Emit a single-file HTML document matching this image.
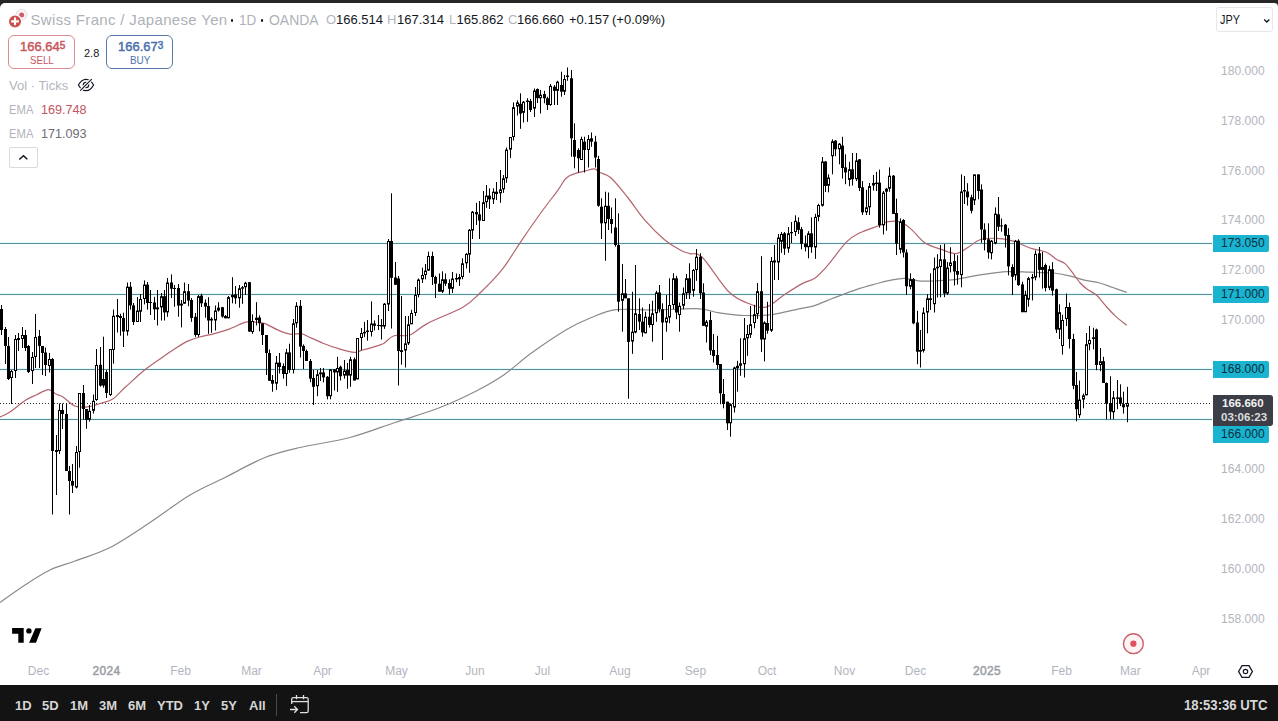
<!DOCTYPE html>
<html><head><meta charset="utf-8">
<style>
*{box-sizing:border-box;margin:0;padding:0}
html,body{width:1278px;height:721px;overflow:hidden;background:#262626;font-family:"Liberation Sans",sans-serif}
#wrap{position:absolute;left:0;top:3px;width:1278px;height:682px;background:#fff;border-radius:5px 4px 0 0}
.t{position:absolute;white-space:nowrap;line-height:1}
.ylab{position:absolute;left:1221px;font-size:12px;color:#b2b5be;line-height:1;letter-spacing:0.05px}
.xlab{position:absolute;top:665px;font-size:12px;color:#b2b5be;line-height:1;transform:translateX(-50%)}
.plab{position:absolute;left:1213px;width:56px;height:17px;background:#1ab3d0;border-radius:0 2px 2px 0;color:#0c2f3b;font-size:12px;line-height:17px;padding-left:8px;letter-spacing:0.05px}
#bar{position:absolute;left:0;top:685px;width:1278px;height:36px;background:#131313}
.bt{position:absolute;top:699px;font-size:13px;color:#d6d6d6;font-weight:bold;line-height:1}
</style></head><body>
<div id="wrap"></div>
<svg width="1278" height="721" viewBox="0 0 1278 721" style="position:absolute;left:0;top:0">
  <g fill="#e2fafd"><rect x="0" y="242" width="1212" height="1"/><rect x="0" y="293" width="1212" height="1"/><rect x="0" y="368" width="1212" height="1"/><rect x="0" y="418" width="1212" height="1"/></g>
  <g fill="#f0fcfd"><rect x="0" y="244" width="1212" height="1"/><rect x="0" y="295" width="1212" height="1"/><rect x="0" y="370" width="1212" height="1"/><rect x="0" y="420" width="1212" height="1"/></g>
  <g fill="#5c9098">
    <rect x="0" y="243" width="1212" height="1"/>
    <rect x="0" y="294" width="1212" height="1"/>
    <rect x="0" y="369" width="1212" height="1"/>
    <rect x="0" y="419" width="1212" height="1"/>
  </g>
  <line x1="0" y1="403.5" x2="1211" y2="403.5" stroke="#2a2a2a" stroke-width="1" stroke-dasharray="1 2"/>
  <path fill="none" stroke="#8a8a8a" stroke-width="1.2" d="M0.0 602.5 C4.2 599.6 16.7 590.4 25.0 585.0 C33.3 579.6 41.7 574.0 50.0 570.0 C58.3 566.0 65.0 564.8 75.0 561.0 C85.0 557.2 97.5 553.9 110.0 547.5 C122.5 541.1 136.7 531.2 150.0 522.5 C163.3 513.8 177.5 502.5 190.0 495.0 C202.5 487.5 212.5 483.8 225.0 477.5 C237.5 471.2 252.5 462.5 265.0 457.5 C277.5 452.5 285.8 450.8 300.0 447.5 C314.2 444.2 334.2 441.7 350.0 437.5 C365.8 433.3 380.0 427.5 395.0 422.5 C410.0 417.5 426.4 412.8 440.0 407.5 C453.6 402.2 465.7 396.4 476.3 391.0 C486.9 385.6 494.6 381.3 503.7 375.0 C512.8 368.7 520.6 360.9 531.1 353.3 C541.6 345.7 556.7 335.5 566.7 329.5 C576.8 323.5 583.2 320.8 591.4 317.5 C599.6 314.2 605.3 310.9 616.0 309.6 C626.7 308.4 642.1 310.2 655.6 310.0 C669.1 309.8 686.6 308.1 697.2 308.6 C707.8 309.1 711.5 311.7 719.4 312.8 C727.3 313.9 736.1 315.2 744.8 315.5 C753.5 315.8 762.2 315.8 771.4 314.7 C780.6 313.6 792.9 310.1 800.0 308.6 C807.1 307.1 809.3 307.2 814.0 305.8 C818.7 304.4 824.0 301.8 828.2 300.1 C832.4 298.5 834.7 297.6 839.4 295.9 C844.1 294.1 850.7 291.5 856.3 289.6 C861.9 287.7 867.6 286.1 873.2 284.6 C878.8 283.1 884.9 281.4 890.1 280.4 C895.3 279.3 899.5 278.2 904.2 278.3 C908.9 278.4 914.1 280.3 918.3 280.8 C922.5 281.3 925.4 281.2 929.6 281.1 C933.8 281.0 939.5 280.6 943.7 280.4 C947.9 280.2 950.7 280.3 954.9 279.7 C959.1 279.1 964.8 277.7 969.0 276.9 C973.2 276.1 973.5 275.7 980.0 274.8 C986.5 273.9 999.5 272.1 1007.8 271.7 C1016.1 271.3 1022.3 272.0 1030.0 272.2 C1037.7 272.4 1047.2 272.4 1053.9 273.0 C1060.7 273.6 1065.4 274.9 1070.5 276.1 C1075.6 277.3 1079.6 279.1 1084.4 280.2 C1089.2 281.3 1095.0 281.8 1099.6 283.0 C1104.2 284.2 1107.6 285.6 1112.1 287.2 C1116.6 288.8 1124.3 291.5 1126.7 292.4"/>
  <path fill="none" stroke="#b4646e" stroke-width="1.2" d="M0.0 417.0 C1.6 416.2 5.2 415.0 9.4 412.3 C13.6 409.6 20.6 403.5 25.0 400.6 C29.4 397.7 32.1 396.8 36.0 395.0 C39.9 393.2 45.1 389.7 48.5 389.6 C51.9 389.5 53.9 393.1 56.3 394.3 C58.6 395.5 59.5 394.8 62.6 396.7 C65.7 398.6 70.8 404.3 75.0 406.0 C79.2 407.7 83.1 407.4 87.6 406.9 C92.0 406.4 97.5 404.3 101.7 403.0 C105.9 401.7 108.8 401.6 112.7 399.0 C116.6 396.4 119.7 392.2 125.2 387.3 C130.7 382.4 139.0 374.5 145.5 369.3 C152.0 364.1 159.1 359.6 164.3 356.0 C169.5 352.4 172.9 349.9 176.8 347.4 C180.7 344.9 184.0 342.8 187.8 341.1 C191.6 339.4 195.1 338.2 199.4 337.0 C203.7 335.8 208.6 335.1 213.5 333.8 C218.4 332.5 223.8 331.1 229.1 329.1 C234.4 327.2 241.2 323.3 245.6 322.1 C250.0 320.9 252.4 321.9 255.7 322.1 C258.9 322.4 261.5 322.3 265.1 323.6 C268.8 324.9 273.4 328.1 277.6 329.9 C281.8 331.7 286.3 333.6 290.2 334.2 C294.1 334.8 298.1 333.3 301.0 333.6 C303.9 333.9 303.7 334.6 307.4 336.2 C311.1 337.8 317.8 341.1 323.0 343.2 C328.2 345.3 333.5 347.2 338.7 348.7 C343.9 350.2 350.4 352.1 354.3 352.3 C358.2 352.6 358.2 351.3 362.1 350.2 C366.0 349.1 374.2 346.8 377.8 345.6 C381.4 344.4 381.3 344.8 384.0 343.2 C386.7 341.6 389.7 337.2 394.0 335.8 C398.3 334.4 404.5 337.0 410.0 335.0 C415.5 333.0 418.3 328.3 427.2 323.6 C436.1 318.9 454.5 312.0 463.3 306.9 C472.1 301.8 473.5 299.2 480.0 293.0 C486.5 286.8 495.2 278.2 502.2 269.4 C509.1 260.6 515.2 249.8 521.7 240.3 C528.2 230.8 535.1 220.8 541.1 212.5 C547.1 204.2 553.6 196.0 557.8 190.3 C561.9 184.6 563.1 181.0 566.0 178.2 C568.9 175.4 571.7 174.8 575.0 173.6 C578.3 172.4 582.4 171.7 585.6 170.9 C588.8 170.1 592.0 168.6 594.4 168.9 C596.8 169.2 597.2 171.0 600.0 172.5 C602.8 174.0 606.5 173.8 611.1 178.0 C615.7 182.2 622.2 190.6 627.8 197.5 C633.3 204.4 638.4 212.8 644.4 219.7 C650.4 226.6 657.9 234.1 663.9 239.2 C669.9 244.3 676.2 247.9 680.6 250.3 C685.0 252.7 686.4 252.4 690.0 253.6 C693.6 254.8 696.0 251.1 702.5 257.5 C709.0 263.9 720.9 284.2 729.0 292.0 C737.1 299.8 744.7 302.0 751.0 304.5 C757.3 307.0 761.2 308.4 766.7 306.8 C772.2 305.2 777.9 298.9 783.9 295.0 C789.9 291.1 797.5 286.2 802.7 283.4 C807.9 280.5 811.0 280.9 815.2 277.9 C819.4 274.9 822.5 271.4 827.7 265.4 C832.9 259.4 841.3 247.2 846.5 241.9 C851.7 236.6 853.5 236.0 859.0 233.3 C864.5 230.6 874.5 227.4 879.4 225.5 C884.3 223.6 885.0 222.3 888.3 221.7 C891.6 221.1 895.7 220.5 899.4 221.7 C903.1 222.8 906.4 225.1 910.6 228.6 C914.8 232.1 919.3 239.0 924.4 242.5 C929.5 246.0 935.8 247.6 941.1 249.4 C946.4 251.2 951.8 254.1 956.4 253.6 C961.0 253.1 965.0 249.0 968.9 246.7 C972.8 244.4 975.4 241.1 980.0 239.7 C984.6 238.3 991.2 238.1 996.7 238.3 C1002.2 238.5 1007.8 239.5 1013.3 241.1 C1018.8 242.7 1025.5 246.4 1030.0 248.0 C1034.5 249.6 1037.0 249.5 1040.0 250.4 C1043.0 251.3 1045.5 251.7 1048.3 253.2 C1051.1 254.7 1053.8 257.7 1056.6 259.4 C1059.4 261.1 1062.5 261.5 1065.0 263.6 C1067.5 265.7 1069.4 268.7 1071.9 271.9 C1074.4 275.1 1077.7 280.1 1080.2 283.0 C1082.8 285.9 1084.4 287.1 1087.2 289.2 C1090.0 291.3 1093.9 292.8 1096.9 295.5 C1099.9 298.2 1102.2 301.8 1105.2 305.2 C1108.2 308.6 1111.3 312.2 1114.9 315.6 C1118.5 319.0 1124.7 323.7 1126.7 325.3"/>
  <g fill="#000">
<rect x="1" y="305.0" width="1" height="30.0"/>
<rect x="0" y="309.0" width="3" height="21.0"/>
<rect x="5" y="327.0" width="1" height="37.0"/>
<rect x="4" y="329.0" width="3" height="17.0"/>
<rect x="8" y="337.0" width="1" height="43.0"/>
<rect x="7" y="346.0" width="3" height="33.0"/>
<rect x="11" y="370.0" width="1" height="34.0"/>
<rect x="10.5" y="371.5" width="2" height="6.0" fill="#fff" stroke="#000" stroke-width="1"/>
<rect x="15" y="335.0" width="1" height="43.0"/>
<rect x="14.5" y="339.5" width="2" height="31.0" fill="#fff" stroke="#000" stroke-width="1"/>
<rect x="18" y="333.0" width="1" height="18.0"/>
<rect x="17" y="338.0" width="3" height="2.0"/>
<rect x="22" y="327.0" width="1" height="21.0"/>
<rect x="21.5" y="335.5" width="2" height="3.0" fill="#fff" stroke="#000" stroke-width="1"/>
<rect x="25" y="330.0" width="1" height="21.0"/>
<rect x="24" y="335.0" width="3" height="13.0"/>
<rect x="28" y="345.0" width="1" height="28.0"/>
<rect x="27" y="346.0" width="3" height="26.0"/>
<rect x="32" y="352.0" width="1" height="32.0"/>
<rect x="31.5" y="357.5" width="2" height="13.0" fill="#fff" stroke="#000" stroke-width="1"/>
<rect x="35" y="314.0" width="1" height="54.0"/>
<rect x="34.5" y="337.5" width="2" height="19.0" fill="#fff" stroke="#000" stroke-width="1"/>
<rect x="39" y="330.0" width="1" height="38.0"/>
<rect x="38" y="336.0" width="3" height="10.0"/>
<rect x="42" y="346.0" width="1" height="29.0"/>
<rect x="41" y="346.0" width="3" height="7.0"/>
<rect x="45" y="347.5" width="1" height="28.5"/>
<rect x="44" y="352.5" width="3" height="12.5"/>
<rect x="49" y="353.0" width="1" height="19.5"/>
<rect x="48.5" y="359.5" width="2" height="6.0" fill="#fff" stroke="#000" stroke-width="1"/>
<rect x="52" y="358.0" width="1" height="156.5"/>
<rect x="51" y="359.0" width="3" height="92.0"/>
<rect x="56" y="435.0" width="1" height="60.0"/>
<rect x="55.5" y="450.5" width="2" height="1.0" fill="#fff" stroke="#000" stroke-width="1"/>
<rect x="59" y="403.5" width="1" height="50.5"/>
<rect x="58.5" y="410.5" width="2" height="40.0" fill="#fff" stroke="#000" stroke-width="1"/>
<rect x="62" y="403.5" width="1" height="25.5"/>
<rect x="61" y="410.0" width="3" height="4.0"/>
<rect x="66" y="403.5" width="1" height="46.5"/>
<rect x="65" y="414.0" width="3" height="57.0"/>
<rect x="69" y="466.0" width="1" height="48.5"/>
<rect x="68" y="471.0" width="3" height="10.0"/>
<rect x="72" y="464.0" width="1" height="29.0"/>
<rect x="71" y="481.0" width="3" height="4.7"/>
<rect x="76" y="446.0" width="1" height="42.4"/>
<rect x="75.5" y="452.5" width="2" height="34.5" fill="#fff" stroke="#000" stroke-width="1"/>
<rect x="79" y="393.0" width="1" height="74.6"/>
<rect x="78.5" y="393.5" width="2" height="58.0" fill="#fff" stroke="#000" stroke-width="1"/>
<rect x="83" y="385.0" width="1" height="34.8"/>
<rect x="82" y="393.0" width="3" height="16.0"/>
<rect x="86" y="409.0" width="1" height="19.8"/>
<rect x="85" y="409.0" width="3" height="10.8"/>
<rect x="89" y="405.0" width="1" height="16.6"/>
<rect x="88.5" y="411.3" width="2" height="8.0" fill="#fff" stroke="#000" stroke-width="1"/>
<rect x="93" y="394.5" width="1" height="19.0"/>
<rect x="92.5" y="401.3" width="2" height="9.0" fill="#fff" stroke="#000" stroke-width="1"/>
<rect x="96" y="349.0" width="1" height="51.8"/>
<rect x="95.5" y="365.5" width="2" height="34.0" fill="#fff" stroke="#000" stroke-width="1"/>
<rect x="100" y="347.0" width="1" height="39.7"/>
<rect x="99" y="364.8" width="3" height="20.8"/>
<rect x="103" y="336.7" width="1" height="51.0"/>
<rect x="102" y="379.0" width="3" height="6.6"/>
<rect x="106" y="370.0" width="1" height="28.0"/>
<rect x="105" y="372.0" width="3" height="21.0"/>
<rect x="110" y="349.0" width="1" height="47.0"/>
<rect x="109.5" y="349.5" width="2" height="45.0" fill="#fff" stroke="#000" stroke-width="1"/>
<rect x="113" y="309.6" width="1" height="54.1"/>
<rect x="112.5" y="316.3" width="2" height="33.2" fill="#fff" stroke="#000" stroke-width="1"/>
<rect x="117" y="299.0" width="1" height="33.5"/>
<rect x="116.5" y="315.5" width="2" height="1.0" fill="#fff" stroke="#000" stroke-width="1"/>
<rect x="120" y="313.8" width="1" height="21.9"/>
<rect x="119.5" y="316.5" width="2" height="1.0" fill="#fff" stroke="#000" stroke-width="1"/>
<rect x="123" y="312.7" width="1" height="34.3"/>
<rect x="122" y="318.0" width="3" height="13.5"/>
<rect x="127" y="282.5" width="1" height="53.1"/>
<rect x="126.5" y="287.2" width="2" height="43.8" fill="#fff" stroke="#000" stroke-width="1"/>
<rect x="130" y="282.0" width="1" height="27.6"/>
<rect x="129" y="286.7" width="3" height="18.7"/>
<rect x="133" y="303.0" width="1" height="22.0"/>
<rect x="132" y="305.4" width="3" height="16.6"/>
<rect x="137" y="297.0" width="1" height="25.0"/>
<rect x="136.5" y="311.1" width="2" height="10.4" fill="#fff" stroke="#000" stroke-width="1"/>
<rect x="140" y="294.0" width="1" height="28.0"/>
<rect x="139.5" y="299.5" width="2" height="11.7" fill="#fff" stroke="#000" stroke-width="1"/>
<rect x="144" y="280.4" width="1" height="24.0"/>
<rect x="143.5" y="285.1" width="2" height="13.4" fill="#fff" stroke="#000" stroke-width="1"/>
<rect x="147" y="282.0" width="1" height="27.6"/>
<rect x="146" y="284.6" width="3" height="18.4"/>
<rect x="150" y="290.0" width="1" height="25.0"/>
<rect x="149" y="302.0" width="3" height="1.0"/>
<rect x="154" y="296.8" width="1" height="23.2"/>
<rect x="153" y="302.5" width="3" height="6.8"/>
<rect x="157" y="290.0" width="1" height="35.5"/>
<rect x="156.5" y="307.9" width="2" height="0.9" fill="#fff" stroke="#000" stroke-width="1"/>
<rect x="161" y="293.0" width="1" height="27.5"/>
<rect x="160.5" y="296.7" width="2" height="10.2" fill="#fff" stroke="#000" stroke-width="1"/>
<rect x="164" y="290.0" width="1" height="30.5"/>
<rect x="163" y="296.2" width="3" height="16.2"/>
<rect x="167" y="278.0" width="1" height="38.8"/>
<rect x="166.5" y="283.0" width="2" height="28.9" fill="#fff" stroke="#000" stroke-width="1"/>
<rect x="171" y="274.4" width="1" height="23.6"/>
<rect x="170" y="282.5" width="3" height="6.2"/>
<rect x="174" y="285.0" width="1" height="21.8"/>
<rect x="173" y="288.0" width="3" height="1.0"/>
<rect x="178" y="284.0" width="1" height="32.8"/>
<rect x="177" y="288.0" width="3" height="17.6"/>
<rect x="181" y="300.0" width="1" height="27.4"/>
<rect x="180.5" y="304.2" width="2" height="0.9" fill="#fff" stroke="#000" stroke-width="1"/>
<rect x="184" y="282.5" width="1" height="21.2"/>
<rect x="183.5" y="291.7" width="2" height="11.5" fill="#fff" stroke="#000" stroke-width="1"/>
<rect x="188" y="284.0" width="1" height="22.2"/>
<rect x="187" y="291.2" width="3" height="9.4"/>
<rect x="191" y="298.0" width="1" height="23.8"/>
<rect x="190" y="300.0" width="3" height="18.0"/>
<rect x="195" y="313.0" width="1" height="23.8"/>
<rect x="194" y="316.8" width="3" height="18.2"/>
<rect x="198" y="295.0" width="1" height="41.8"/>
<rect x="197.5" y="296.7" width="2" height="37.8" fill="#fff" stroke="#000" stroke-width="1"/>
<rect x="201" y="293.7" width="1" height="13.3"/>
<rect x="200" y="295.6" width="3" height="7.7"/>
<rect x="205" y="299.4" width="1" height="18.3"/>
<rect x="204" y="302.7" width="3" height="3.9"/>
<rect x="208" y="297.2" width="1" height="36.6"/>
<rect x="207" y="306.0" width="3" height="14.5"/>
<rect x="211" y="317.2" width="1" height="15.5"/>
<rect x="210.5" y="319.3" width="2" height="0.7" fill="#fff" stroke="#000" stroke-width="1"/>
<rect x="215" y="305.5" width="1" height="25.0"/>
<rect x="214.5" y="311.0" width="2" height="9.0" fill="#fff" stroke="#000" stroke-width="1"/>
<rect x="218" y="302.2" width="1" height="9.4"/>
<rect x="217.5" y="308.2" width="2" height="1.8" fill="#fff" stroke="#000" stroke-width="1"/>
<rect x="222" y="307.0" width="1" height="10.7"/>
<rect x="221" y="307.2" width="3" height="9.4"/>
<rect x="225" y="315.0" width="1" height="3.3"/>
<rect x="224" y="316.0" width="3" height="2.3"/>
<rect x="228" y="296.0" width="1" height="22.3"/>
<rect x="227.5" y="297.7" width="2" height="20.1" fill="#fff" stroke="#000" stroke-width="1"/>
<rect x="232" y="277.2" width="1" height="26.1"/>
<rect x="231.5" y="295.5" width="2" height="1.2" fill="#fff" stroke="#000" stroke-width="1"/>
<rect x="235" y="286.0" width="1" height="17.8"/>
<rect x="234" y="294.4" width="3" height="3.9"/>
<rect x="239" y="285.0" width="1" height="22.7"/>
<rect x="238.5" y="288.8" width="2" height="9.0" fill="#fff" stroke="#000" stroke-width="1"/>
<rect x="242" y="286.0" width="1" height="17.8"/>
<rect x="241.5" y="287.7" width="2" height="0.5" fill="#fff" stroke="#000" stroke-width="1"/>
<rect x="245" y="281.7" width="1" height="13.3"/>
<rect x="244.5" y="283.3" width="2" height="3.4" fill="#fff" stroke="#000" stroke-width="1"/>
<rect x="249" y="282.0" width="1" height="49.6"/>
<rect x="248" y="282.2" width="3" height="49.4"/>
<rect x="252" y="314.4" width="1" height="19.4"/>
<rect x="251.5" y="321.5" width="2" height="10.0" fill="#fff" stroke="#000" stroke-width="1"/>
<rect x="256" y="302.2" width="1" height="23.3"/>
<rect x="255.5" y="318.2" width="2" height="1.3" fill="#fff" stroke="#000" stroke-width="1"/>
<rect x="259" y="315.3" width="1" height="16.0"/>
<rect x="258" y="317.5" width="3" height="5.8"/>
<rect x="262" y="323.3" width="1" height="21.7"/>
<rect x="261" y="323.3" width="3" height="11.7"/>
<rect x="266" y="335.0" width="1" height="40.0"/>
<rect x="265" y="335.0" width="3" height="18.0"/>
<rect x="269" y="349.5" width="1" height="31.3"/>
<rect x="268" y="353.0" width="3" height="27.8"/>
<rect x="272" y="375.0" width="1" height="16.7"/>
<rect x="271" y="380.0" width="3" height="3.7"/>
<rect x="276" y="356.0" width="1" height="34.0"/>
<rect x="275.5" y="363.1" width="2" height="20.1" fill="#fff" stroke="#000" stroke-width="1"/>
<rect x="279" y="353.0" width="1" height="20.5"/>
<rect x="278" y="362.6" width="3" height="4.4"/>
<rect x="283" y="363.3" width="1" height="15.3"/>
<rect x="282" y="366.0" width="3" height="8.0"/>
<rect x="286" y="348.8" width="1" height="37.2"/>
<rect x="285.5" y="352.9" width="2" height="20.6" fill="#fff" stroke="#000" stroke-width="1"/>
<rect x="289" y="343.7" width="1" height="29.1"/>
<rect x="288" y="352.4" width="3" height="17.6"/>
<rect x="293" y="319.0" width="1" height="54.5"/>
<rect x="292.5" y="323.8" width="2" height="45.7" fill="#fff" stroke="#000" stroke-width="1"/>
<rect x="296" y="302.2" width="1" height="25.5"/>
<rect x="295.5" y="306.3" width="2" height="16.5" fill="#fff" stroke="#000" stroke-width="1"/>
<rect x="300" y="300.0" width="1" height="57.5"/>
<rect x="299" y="305.8" width="3" height="40.8"/>
<rect x="303" y="344.4" width="1" height="24.6"/>
<rect x="302" y="345.9" width="3" height="5.1"/>
<rect x="306" y="349.5" width="1" height="11.5"/>
<rect x="305" y="351.0" width="3" height="10.0"/>
<rect x="310" y="359.0" width="1" height="23.2"/>
<rect x="309" y="361.0" width="3" height="17.6"/>
<rect x="313" y="370.0" width="1" height="34.9"/>
<rect x="312" y="378.0" width="3" height="8.8"/>
<rect x="317" y="370.0" width="1" height="26.2"/>
<rect x="316.5" y="374.8" width="2" height="10.9" fill="#fff" stroke="#000" stroke-width="1"/>
<rect x="320" y="368.0" width="1" height="13.0"/>
<rect x="319.5" y="372.9" width="2" height="0.9" fill="#fff" stroke="#000" stroke-width="1"/>
<rect x="323" y="368.0" width="1" height="14.4"/>
<rect x="322" y="372.4" width="3" height="5.0"/>
<rect x="327" y="376.0" width="1" height="23.3"/>
<rect x="326" y="376.8" width="3" height="19.4"/>
<rect x="330" y="369.3" width="1" height="30.0"/>
<rect x="329.5" y="369.8" width="2" height="25.9" fill="#fff" stroke="#000" stroke-width="1"/>
<rect x="334" y="369.3" width="1" height="21.2"/>
<rect x="333" y="369.3" width="3" height="3.1"/>
<rect x="337" y="356.8" width="1" height="35.0"/>
<rect x="336.5" y="368.5" width="2" height="3.4" fill="#fff" stroke="#000" stroke-width="1"/>
<rect x="340" y="365.6" width="1" height="14.9"/>
<rect x="339" y="366.8" width="3" height="9.4"/>
<rect x="344" y="360.0" width="1" height="18.7"/>
<rect x="343.5" y="371.1" width="2" height="4.0" fill="#fff" stroke="#000" stroke-width="1"/>
<rect x="347" y="363.0" width="1" height="25.7"/>
<rect x="346" y="370.0" width="3" height="5.6"/>
<rect x="350" y="356.8" width="1" height="30.0"/>
<rect x="349.5" y="359.8" width="2" height="15.3" fill="#fff" stroke="#000" stroke-width="1"/>
<rect x="354" y="357.5" width="1" height="23.0"/>
<rect x="353" y="359.3" width="3" height="21.2"/>
<rect x="357" y="338.0" width="1" height="41.3"/>
<rect x="356.5" y="338.5" width="2" height="40.3" fill="#fff" stroke="#000" stroke-width="1"/>
<rect x="361" y="328.0" width="1" height="22.0"/>
<rect x="360.5" y="333.5" width="2" height="4.0" fill="#fff" stroke="#000" stroke-width="1"/>
<rect x="364" y="321.9" width="1" height="15.0"/>
<rect x="363.5" y="332.4" width="2" height="0.5" fill="#fff" stroke="#000" stroke-width="1"/>
<rect x="367" y="320.0" width="1" height="20.6"/>
<rect x="366" y="330.5" width="3" height="1.5"/>
<rect x="371" y="301.4" width="1" height="35.1"/>
<rect x="370.5" y="324.0" width="2" height="7.5" fill="#fff" stroke="#000" stroke-width="1"/>
<rect x="374" y="320.5" width="1" height="9.9"/>
<rect x="373" y="323.5" width="3" height="2.3"/>
<rect x="378" y="315.0" width="1" height="15.0"/>
<rect x="377" y="325.0" width="3" height="1.0"/>
<rect x="381" y="319.0" width="1" height="20.5"/>
<rect x="380.5" y="325.5" width="2" height="0.5" fill="#fff" stroke="#000" stroke-width="1"/>
<rect x="384" y="303.0" width="1" height="25.9"/>
<rect x="383.5" y="304.2" width="2" height="21.9" fill="#fff" stroke="#000" stroke-width="1"/>
<rect x="388" y="239.0" width="1" height="72.0"/>
<rect x="387.5" y="241.5" width="2" height="62.5" fill="#fff" stroke="#000" stroke-width="1"/>
<rect x="391" y="193.3" width="1" height="135.2"/>
<rect x="390" y="241.0" width="3" height="36.8"/>
<rect x="395" y="262.0" width="1" height="23.0"/>
<rect x="394" y="277.5" width="3" height="7.3"/>
<rect x="398" y="276.0" width="1" height="109.5"/>
<rect x="397" y="278.5" width="3" height="72.5"/>
<rect x="401" y="296.0" width="1" height="68.7"/>
<rect x="400" y="350.2" width="3" height="1.8"/>
<rect x="405" y="316.0" width="1" height="51.5"/>
<rect x="404.5" y="343.9" width="2" height="6.1" fill="#fff" stroke="#000" stroke-width="1"/>
<rect x="408" y="316.0" width="1" height="29.0"/>
<rect x="407.5" y="324.8" width="2" height="18.1" fill="#fff" stroke="#000" stroke-width="1"/>
<rect x="411" y="309.8" width="1" height="14.2"/>
<rect x="410.5" y="313.5" width="2" height="10.3" fill="#fff" stroke="#000" stroke-width="1"/>
<rect x="415" y="287.0" width="1" height="29.0"/>
<rect x="414.5" y="295.5" width="2" height="17.0" fill="#fff" stroke="#000" stroke-width="1"/>
<rect x="418" y="278.5" width="1" height="18.8"/>
<rect x="417.5" y="280.1" width="2" height="14.4" fill="#fff" stroke="#000" stroke-width="1"/>
<rect x="422" y="267.7" width="1" height="15.3"/>
<rect x="421.5" y="275.5" width="2" height="3.3" fill="#fff" stroke="#000" stroke-width="1"/>
<rect x="425" y="264.0" width="1" height="15.3"/>
<rect x="424.5" y="271.1" width="2" height="3.4" fill="#fff" stroke="#000" stroke-width="1"/>
<rect x="428" y="251.7" width="1" height="18.9"/>
<rect x="427.5" y="256.5" width="2" height="13.6" fill="#fff" stroke="#000" stroke-width="1"/>
<rect x="432" y="251.7" width="1" height="33.3"/>
<rect x="431" y="256.0" width="3" height="21.0"/>
<rect x="435" y="275.7" width="1" height="22.3"/>
<rect x="434" y="277.0" width="3" height="6.7"/>
<rect x="439" y="273.5" width="1" height="18.2"/>
<rect x="438" y="283.7" width="3" height="8.0"/>
<rect x="442" y="271.3" width="1" height="21.7"/>
<rect x="441.5" y="279.8" width="2" height="11.4" fill="#fff" stroke="#000" stroke-width="1"/>
<rect x="445" y="273.5" width="1" height="12.4"/>
<rect x="444" y="279.3" width="3" height="4.4"/>
<rect x="449" y="279.3" width="1" height="15.3"/>
<rect x="448" y="283.0" width="3" height="5.8"/>
<rect x="452" y="272.0" width="1" height="21.0"/>
<rect x="451.5" y="279.1" width="2" height="9.2" fill="#fff" stroke="#000" stroke-width="1"/>
<rect x="456" y="273.5" width="1" height="8.7"/>
<rect x="455.5" y="278.5" width="2" height="0.5" fill="#fff" stroke="#000" stroke-width="1"/>
<rect x="459" y="274.0" width="1" height="11.9"/>
<rect x="458.5" y="277.5" width="2" height="1.3" fill="#fff" stroke="#000" stroke-width="1"/>
<rect x="462" y="258.2" width="1" height="21.1"/>
<rect x="461.5" y="263.8" width="2" height="12.7" fill="#fff" stroke="#000" stroke-width="1"/>
<rect x="466" y="253.0" width="1" height="15.4"/>
<rect x="465.5" y="254.4" width="2" height="8.4" fill="#fff" stroke="#000" stroke-width="1"/>
<rect x="469" y="229.0" width="1" height="43.8"/>
<rect x="468.5" y="230.3" width="2" height="23.8" fill="#fff" stroke="#000" stroke-width="1"/>
<rect x="472" y="211.0" width="1" height="28.0"/>
<rect x="471.5" y="212.2" width="2" height="17.9" fill="#fff" stroke="#000" stroke-width="1"/>
<rect x="476" y="202.8" width="1" height="22.2"/>
<rect x="475" y="212.0" width="3" height="2.4"/>
<rect x="479" y="201.0" width="1" height="38.0"/>
<rect x="478" y="214.4" width="3" height="6.2"/>
<rect x="483" y="191.0" width="1" height="30.0"/>
<rect x="482.5" y="202.7" width="2" height="17.8" fill="#fff" stroke="#000" stroke-width="1"/>
<rect x="486" y="185.0" width="1" height="22.8"/>
<rect x="485.5" y="196.1" width="2" height="5.6" fill="#fff" stroke="#000" stroke-width="1"/>
<rect x="489" y="188.3" width="1" height="20.7"/>
<rect x="488" y="195.6" width="3" height="3.8"/>
<rect x="493" y="188.3" width="1" height="15.7"/>
<rect x="492.5" y="192.2" width="2" height="6.7" fill="#fff" stroke="#000" stroke-width="1"/>
<rect x="496" y="182.0" width="1" height="18.0"/>
<rect x="495" y="191.7" width="3" height="2.3"/>
<rect x="500" y="170.0" width="1" height="32.8"/>
<rect x="499.5" y="189.9" width="2" height="2.9" fill="#fff" stroke="#000" stroke-width="1"/>
<rect x="503" y="175.0" width="1" height="17.8"/>
<rect x="502.5" y="178.8" width="2" height="10.1" fill="#fff" stroke="#000" stroke-width="1"/>
<rect x="506" y="147.5" width="1" height="35.3"/>
<rect x="505.5" y="150.1" width="2" height="27.7" fill="#fff" stroke="#000" stroke-width="1"/>
<rect x="510" y="137.0" width="1" height="21.0"/>
<rect x="509.5" y="137.5" width="2" height="11.6" fill="#fff" stroke="#000" stroke-width="1"/>
<rect x="513" y="102.4" width="1" height="38.1"/>
<rect x="512.5" y="107.7" width="2" height="28.8" fill="#fff" stroke="#000" stroke-width="1"/>
<rect x="517" y="100.3" width="1" height="15.2"/>
<rect x="516.5" y="102.9" width="2" height="3.1" fill="#fff" stroke="#000" stroke-width="1"/>
<rect x="520" y="93.3" width="1" height="35.5"/>
<rect x="519" y="103.8" width="3" height="9.8"/>
<rect x="523" y="101.0" width="1" height="21.5"/>
<rect x="522.5" y="102.2" width="2" height="10.1" fill="#fff" stroke="#000" stroke-width="1"/>
<rect x="527" y="98.2" width="1" height="23.6"/>
<rect x="526.5" y="101.0" width="2" height="0.5" fill="#fff" stroke="#000" stroke-width="1"/>
<rect x="530" y="98.9" width="1" height="13.1"/>
<rect x="529" y="101.0" width="3" height="9.0"/>
<rect x="534" y="88.5" width="1" height="28.5"/>
<rect x="533.5" y="91.0" width="2" height="17.1" fill="#fff" stroke="#000" stroke-width="1"/>
<rect x="537" y="88.5" width="1" height="14.5"/>
<rect x="536" y="89.0" width="3" height="9.2"/>
<rect x="540" y="89.9" width="1" height="23.6"/>
<rect x="539.5" y="95.2" width="2" height="2.5" fill="#fff" stroke="#000" stroke-width="1"/>
<rect x="544" y="90.8" width="1" height="12.5"/>
<rect x="543" y="94.0" width="3" height="4.3"/>
<rect x="547" y="96.7" width="1" height="13.3"/>
<rect x="546" y="98.3" width="3" height="6.7"/>
<rect x="550" y="84.0" width="1" height="21.8"/>
<rect x="549.5" y="86.3" width="2" height="18.2" fill="#fff" stroke="#000" stroke-width="1"/>
<rect x="554" y="85.0" width="1" height="20.0"/>
<rect x="553" y="86.7" width="3" height="4.1"/>
<rect x="557" y="80.8" width="1" height="24.2"/>
<rect x="556.5" y="82.2" width="2" height="8.1" fill="#fff" stroke="#000" stroke-width="1"/>
<rect x="561" y="71.7" width="1" height="25.0"/>
<rect x="560" y="85.0" width="3" height="6.7"/>
<rect x="564" y="75.0" width="1" height="20.0"/>
<rect x="563.5" y="79.5" width="2" height="11.7" fill="#fff" stroke="#000" stroke-width="1"/>
<rect x="567" y="67.5" width="1" height="13.3"/>
<rect x="566.5" y="76.0" width="2" height="0.5" fill="#fff" stroke="#000" stroke-width="1"/>
<rect x="571" y="70.0" width="1" height="86.7"/>
<rect x="570" y="78.3" width="3" height="60.0"/>
<rect x="574" y="123.3" width="1" height="45.0"/>
<rect x="573" y="140.0" width="3" height="16.7"/>
<rect x="578" y="148.3" width="1" height="24.2"/>
<rect x="577" y="150.0" width="3" height="8.3"/>
<rect x="581" y="136.7" width="1" height="23.3"/>
<rect x="580.5" y="139.5" width="2" height="20.0" fill="#fff" stroke="#000" stroke-width="1"/>
<rect x="584" y="136.7" width="1" height="35.8"/>
<rect x="583" y="141.7" width="3" height="8.3"/>
<rect x="588" y="135.0" width="1" height="32.5"/>
<rect x="587.5" y="139.5" width="2" height="10.0" fill="#fff" stroke="#000" stroke-width="1"/>
<rect x="591" y="132.5" width="1" height="14.2"/>
<rect x="590" y="138.3" width="3" height="3.4"/>
<rect x="595" y="135.8" width="1" height="31.7"/>
<rect x="594" y="141.7" width="3" height="15.8"/>
<rect x="598" y="155.8" width="1" height="50.9"/>
<rect x="597" y="159.0" width="3" height="46.8"/>
<rect x="601" y="198.3" width="1" height="40.7"/>
<rect x="600" y="206.7" width="3" height="16.6"/>
<rect x="605" y="191.7" width="1" height="69.1"/>
<rect x="604.5" y="206.3" width="2" height="16.5" fill="#fff" stroke="#000" stroke-width="1"/>
<rect x="608" y="192.5" width="1" height="37.5"/>
<rect x="607" y="205.8" width="3" height="13.2"/>
<rect x="611" y="207.5" width="1" height="25.8"/>
<rect x="610" y="219.0" width="3" height="5.0"/>
<rect x="615" y="198.3" width="1" height="48.4"/>
<rect x="614" y="227.5" width="3" height="17.5"/>
<rect x="618" y="213.3" width="1" height="98.4"/>
<rect x="617" y="245.0" width="3" height="56.7"/>
<rect x="622" y="264.0" width="1" height="67.7"/>
<rect x="621.5" y="293.8" width="2" height="6.5" fill="#fff" stroke="#000" stroke-width="1"/>
<rect x="625" y="279.0" width="1" height="19.3"/>
<rect x="624" y="293.3" width="3" height="5.0"/>
<rect x="628" y="298.3" width="1" height="100.4"/>
<rect x="627" y="298.3" width="3" height="43.6"/>
<rect x="632" y="291.7" width="1" height="62.1"/>
<rect x="631.5" y="332.2" width="2" height="8.8" fill="#fff" stroke="#000" stroke-width="1"/>
<rect x="635" y="265.0" width="1" height="68.3"/>
<rect x="634.5" y="313.8" width="2" height="18.2" fill="#fff" stroke="#000" stroke-width="1"/>
<rect x="639" y="298.3" width="1" height="31.7"/>
<rect x="638" y="314.0" width="3" height="7.7"/>
<rect x="642" y="307.5" width="1" height="29.2"/>
<rect x="641" y="321.7" width="3" height="10.8"/>
<rect x="645" y="311.7" width="1" height="21.6"/>
<rect x="644.5" y="317.2" width="2" height="15.6" fill="#fff" stroke="#000" stroke-width="1"/>
<rect x="649" y="304.0" width="1" height="23.5"/>
<rect x="648" y="316.7" width="3" height="8.3"/>
<rect x="652" y="300.8" width="1" height="40.9"/>
<rect x="651.5" y="313.8" width="2" height="10.7" fill="#fff" stroke="#000" stroke-width="1"/>
<rect x="656" y="290.8" width="1" height="30.9"/>
<rect x="655.5" y="293.0" width="2" height="19.8" fill="#fff" stroke="#000" stroke-width="1"/>
<rect x="659" y="285.0" width="1" height="27.5"/>
<rect x="658" y="292.5" width="3" height="16.7"/>
<rect x="662" y="303.3" width="1" height="56.7"/>
<rect x="661" y="309.2" width="3" height="13.3"/>
<rect x="666" y="295.0" width="1" height="36.7"/>
<rect x="665.5" y="318.0" width="2" height="4.0" fill="#fff" stroke="#000" stroke-width="1"/>
<rect x="669" y="278.3" width="1" height="45.0"/>
<rect x="668.5" y="305.5" width="2" height="11.5" fill="#fff" stroke="#000" stroke-width="1"/>
<rect x="673" y="273.3" width="1" height="35.9"/>
<rect x="672.5" y="278.8" width="2" height="25.7" fill="#fff" stroke="#000" stroke-width="1"/>
<rect x="676" y="275.8" width="1" height="43.4"/>
<rect x="675" y="278.3" width="3" height="34.2"/>
<rect x="679" y="302.5" width="1" height="29.2"/>
<rect x="678.5" y="306.3" width="2" height="8.2" fill="#fff" stroke="#000" stroke-width="1"/>
<rect x="683" y="287.5" width="1" height="21.7"/>
<rect x="682.5" y="293.8" width="2" height="11.5" fill="#fff" stroke="#000" stroke-width="1"/>
<rect x="686" y="274.0" width="1" height="25.0"/>
<rect x="685.5" y="278.8" width="2" height="14.0" fill="#fff" stroke="#000" stroke-width="1"/>
<rect x="689" y="263.3" width="1" height="35.7"/>
<rect x="688" y="278.3" width="3" height="15.0"/>
<rect x="693" y="269.0" width="1" height="27.7"/>
<rect x="692.5" y="270.5" width="2" height="19.8" fill="#fff" stroke="#000" stroke-width="1"/>
<rect x="696" y="249.0" width="1" height="31.8"/>
<rect x="695.5" y="257.2" width="2" height="12.3" fill="#fff" stroke="#000" stroke-width="1"/>
<rect x="700" y="253.3" width="1" height="45.7"/>
<rect x="699" y="256.7" width="3" height="36.6"/>
<rect x="703" y="283.3" width="1" height="42.5"/>
<rect x="702" y="292.5" width="3" height="33.3"/>
<rect x="706" y="320.0" width="1" height="22.5"/>
<rect x="705.5" y="322.2" width="2" height="4.0" fill="#fff" stroke="#000" stroke-width="1"/>
<rect x="710" y="311.7" width="1" height="43.3"/>
<rect x="709" y="320.0" width="3" height="30.5"/>
<rect x="713" y="334.0" width="1" height="28.5"/>
<rect x="712" y="350.0" width="3" height="6.0"/>
<rect x="717" y="335.8" width="1" height="33.2"/>
<rect x="716" y="355.0" width="3" height="10.0"/>
<rect x="720" y="364.0" width="1" height="40.2"/>
<rect x="719" y="364.0" width="3" height="29.3"/>
<rect x="723" y="379.0" width="1" height="29.3"/>
<rect x="722" y="394.0" width="3" height="10.0"/>
<rect x="727" y="401.7" width="1" height="28.3"/>
<rect x="726" y="401.7" width="3" height="21.6"/>
<rect x="730" y="403.3" width="1" height="33.4"/>
<rect x="729.5" y="404.7" width="2" height="18.1" fill="#fff" stroke="#000" stroke-width="1"/>
<rect x="734" y="366.7" width="1" height="45.8"/>
<rect x="733.5" y="368.0" width="2" height="39.0" fill="#fff" stroke="#000" stroke-width="1"/>
<rect x="737" y="360.8" width="1" height="30.9"/>
<rect x="736.5" y="366.3" width="2" height="1.5" fill="#fff" stroke="#000" stroke-width="1"/>
<rect x="740" y="338.3" width="1" height="37.5"/>
<rect x="739.5" y="363.8" width="2" height="1.5" fill="#fff" stroke="#000" stroke-width="1"/>
<rect x="744" y="318.0" width="1" height="59.5"/>
<rect x="743.5" y="338.8" width="2" height="24.9" fill="#fff" stroke="#000" stroke-width="1"/>
<rect x="747" y="325.0" width="1" height="30.8"/>
<rect x="746.5" y="334.5" width="2" height="3.3" fill="#fff" stroke="#000" stroke-width="1"/>
<rect x="750" y="306.0" width="1" height="31.8"/>
<rect x="749.5" y="324.7" width="2" height="9.6" fill="#fff" stroke="#000" stroke-width="1"/>
<rect x="754" y="304.8" width="1" height="23.5"/>
<rect x="753.5" y="314.7" width="2" height="7.8" fill="#fff" stroke="#000" stroke-width="1"/>
<rect x="757" y="283.0" width="1" height="36.0"/>
<rect x="756.5" y="291.7" width="2" height="22.0" fill="#fff" stroke="#000" stroke-width="1"/>
<rect x="761" y="256.2" width="1" height="95.8"/>
<rect x="760" y="291.2" width="3" height="48.3"/>
<rect x="764" y="321.3" width="1" height="40.1"/>
<rect x="763.5" y="323.0" width="2" height="16.0" fill="#fff" stroke="#000" stroke-width="1"/>
<rect x="767" y="301.8" width="1" height="31.9"/>
<rect x="766" y="323.0" width="3" height="7.7"/>
<rect x="771" y="257.0" width="1" height="74.9"/>
<rect x="770.5" y="261.5" width="2" height="68.7" fill="#fff" stroke="#000" stroke-width="1"/>
<rect x="774" y="245.0" width="1" height="35.0"/>
<rect x="773" y="260.4" width="3" height="2.1"/>
<rect x="778" y="234.0" width="1" height="46.0"/>
<rect x="777.5" y="238.0" width="2" height="24.0" fill="#fff" stroke="#000" stroke-width="1"/>
<rect x="781" y="232.0" width="1" height="20.8"/>
<rect x="780.5" y="234.5" width="2" height="6.7" fill="#fff" stroke="#000" stroke-width="1"/>
<rect x="784" y="232.0" width="1" height="22.9"/>
<rect x="783" y="233.3" width="3" height="15.3"/>
<rect x="788" y="227.0" width="1" height="25.8"/>
<rect x="787.5" y="233.8" width="2" height="14.3" fill="#fff" stroke="#000" stroke-width="1"/>
<rect x="791" y="222.0" width="1" height="21.0"/>
<rect x="790" y="232.0" width="3" height="1.3"/>
<rect x="795" y="215.3" width="1" height="20.7"/>
<rect x="794.5" y="221.3" width="2" height="10.2" fill="#fff" stroke="#000" stroke-width="1"/>
<rect x="798" y="217.4" width="1" height="16.6"/>
<rect x="797" y="222.2" width="3" height="7.7"/>
<rect x="801" y="227.0" width="1" height="22.3"/>
<rect x="800" y="229.2" width="3" height="14.6"/>
<rect x="805" y="235.4" width="1" height="16.0"/>
<rect x="804" y="243.8" width="3" height="3.4"/>
<rect x="808" y="231.2" width="1" height="27.1"/>
<rect x="807.5" y="233.8" width="2" height="12.9" fill="#fff" stroke="#000" stroke-width="1"/>
<rect x="811" y="217.4" width="1" height="35.4"/>
<rect x="810" y="233.3" width="3" height="13.9"/>
<rect x="815" y="213.8" width="1" height="45.0"/>
<rect x="814.5" y="217.4" width="2" height="29.6" fill="#fff" stroke="#000" stroke-width="1"/>
<rect x="818" y="203.8" width="1" height="17.5"/>
<rect x="817.5" y="205.5" width="2" height="10.9" fill="#fff" stroke="#000" stroke-width="1"/>
<rect x="822" y="157.0" width="1" height="49.6"/>
<rect x="821.5" y="162.0" width="2" height="43.2" fill="#fff" stroke="#000" stroke-width="1"/>
<rect x="825" y="161.0" width="1" height="31.0"/>
<rect x="824" y="161.5" width="3" height="24.5"/>
<rect x="828" y="174.3" width="1" height="18.0"/>
<rect x="827.5" y="178.0" width="2" height="7.2" fill="#fff" stroke="#000" stroke-width="1"/>
<rect x="832" y="139.3" width="1" height="35.0"/>
<rect x="831.5" y="141.7" width="2" height="14.0" fill="#fff" stroke="#000" stroke-width="1"/>
<rect x="835" y="140.0" width="1" height="16.2"/>
<rect x="834" y="140.6" width="3" height="8.7"/>
<rect x="839" y="143.0" width="1" height="21.3"/>
<rect x="838.5" y="144.2" width="2" height="4.6" fill="#fff" stroke="#000" stroke-width="1"/>
<rect x="842" y="136.8" width="1" height="41.8"/>
<rect x="841" y="145.6" width="3" height="22.4"/>
<rect x="845" y="154.3" width="1" height="29.9"/>
<rect x="844" y="167.4" width="3" height="5.0"/>
<rect x="849" y="161.8" width="1" height="24.3"/>
<rect x="848.5" y="169.8" width="2" height="9.6" fill="#fff" stroke="#000" stroke-width="1"/>
<rect x="852" y="153.0" width="1" height="32.5"/>
<rect x="851" y="169.3" width="3" height="9.9"/>
<rect x="856" y="153.0" width="1" height="28.1"/>
<rect x="855.5" y="161.0" width="2" height="17.7" fill="#fff" stroke="#000" stroke-width="1"/>
<rect x="859" y="159.3" width="1" height="31.7"/>
<rect x="858" y="159.3" width="3" height="28.7"/>
<rect x="862" y="181.1" width="1" height="33.9"/>
<rect x="861" y="187.3" width="3" height="25.0"/>
<rect x="866" y="189.8" width="1" height="25.2"/>
<rect x="865.5" y="207.8" width="2" height="4.0" fill="#fff" stroke="#000" stroke-width="1"/>
<rect x="869" y="183.0" width="1" height="32.0"/>
<rect x="868.5" y="186.6" width="2" height="20.2" fill="#fff" stroke="#000" stroke-width="1"/>
<rect x="873" y="174.9" width="1" height="15.6"/>
<rect x="872.5" y="183.5" width="2" height="1.5" fill="#fff" stroke="#000" stroke-width="1"/>
<rect x="876" y="171.9" width="1" height="19.1"/>
<rect x="875" y="182.6" width="3" height="1.4"/>
<rect x="879" y="169.6" width="1" height="58.0"/>
<rect x="878" y="182.6" width="3" height="42.7"/>
<rect x="883" y="191.0" width="1" height="43.5"/>
<rect x="882.5" y="193.0" width="2" height="31.8" fill="#fff" stroke="#000" stroke-width="1"/>
<rect x="886" y="187.9" width="1" height="42.7"/>
<rect x="885.5" y="189.2" width="2" height="2.0" fill="#fff" stroke="#000" stroke-width="1"/>
<rect x="889" y="167.3" width="1" height="24.4"/>
<rect x="888.5" y="176.2" width="2" height="12.0" fill="#fff" stroke="#000" stroke-width="1"/>
<rect x="893" y="175.0" width="1" height="38.9"/>
<rect x="892" y="175.7" width="3" height="38.2"/>
<rect x="896" y="198.6" width="1" height="56.4"/>
<rect x="895" y="213.0" width="3" height="30.6"/>
<rect x="900" y="218.4" width="1" height="35.1"/>
<rect x="899.5" y="222.0" width="2" height="27.2" fill="#fff" stroke="#000" stroke-width="1"/>
<rect x="903" y="219.2" width="1" height="38.3"/>
<rect x="902" y="220.0" width="3" height="32.5"/>
<rect x="906" y="249.4" width="1" height="45.6"/>
<rect x="905" y="252.5" width="3" height="33.8"/>
<rect x="910" y="273.3" width="1" height="15.9"/>
<rect x="909.5" y="279.7" width="2" height="6.5" fill="#fff" stroke="#000" stroke-width="1"/>
<rect x="913" y="278.0" width="1" height="46.2"/>
<rect x="912" y="279.2" width="3" height="44.1"/>
<rect x="917" y="310.8" width="1" height="53.4"/>
<rect x="916" y="322.5" width="3" height="29.2"/>
<rect x="920" y="330.0" width="1" height="37.5"/>
<rect x="919.5" y="350.5" width="2" height="0.7" fill="#fff" stroke="#000" stroke-width="1"/>
<rect x="923" y="307.5" width="1" height="45.0"/>
<rect x="922.5" y="313.0" width="2" height="37.3" fill="#fff" stroke="#000" stroke-width="1"/>
<rect x="927" y="294.2" width="1" height="39.1"/>
<rect x="926.5" y="298.8" width="2" height="13.2" fill="#fff" stroke="#000" stroke-width="1"/>
<rect x="930" y="273.3" width="1" height="36.7"/>
<rect x="929" y="298.3" width="3" height="1.7"/>
<rect x="934" y="257.5" width="1" height="55.0"/>
<rect x="933.5" y="268.8" width="2" height="34.9" fill="#fff" stroke="#000" stroke-width="1"/>
<rect x="937" y="254.2" width="1" height="43.3"/>
<rect x="936.5" y="267.2" width="2" height="0.6" fill="#fff" stroke="#000" stroke-width="1"/>
<rect x="940" y="245.0" width="1" height="52.2"/>
<rect x="939.5" y="259.8" width="2" height="6.7" fill="#fff" stroke="#000" stroke-width="1"/>
<rect x="944" y="244.0" width="1" height="53.2"/>
<rect x="943" y="259.3" width="3" height="34.3"/>
<rect x="947" y="262.0" width="1" height="33.0"/>
<rect x="946.5" y="268.0" width="2" height="25.1" fill="#fff" stroke="#000" stroke-width="1"/>
<rect x="950" y="247.2" width="1" height="25.2"/>
<rect x="949.5" y="263.0" width="2" height="2.6" fill="#fff" stroke="#000" stroke-width="1"/>
<rect x="954" y="254.0" width="1" height="31.5"/>
<rect x="953" y="261.1" width="3" height="10.4"/>
<rect x="957" y="255.3" width="1" height="29.3"/>
<rect x="956" y="271.0" width="3" height="3.7"/>
<rect x="961" y="174.4" width="1" height="112.9"/>
<rect x="960.5" y="192.0" width="2" height="82.6" fill="#fff" stroke="#000" stroke-width="1"/>
<rect x="964" y="176.0" width="1" height="28.0"/>
<rect x="963.5" y="190.5" width="2" height="0.5" fill="#fff" stroke="#000" stroke-width="1"/>
<rect x="967" y="183.2" width="1" height="22.4"/>
<rect x="966" y="191.5" width="3" height="5.8"/>
<rect x="971" y="194.7" width="1" height="18.7"/>
<rect x="970" y="197.3" width="3" height="13.5"/>
<rect x="974" y="174.4" width="1" height="30.6"/>
<rect x="973.5" y="174.9" width="2" height="25.0" fill="#fff" stroke="#000" stroke-width="1"/>
<rect x="978" y="174.4" width="1" height="24.9"/>
<rect x="977" y="174.4" width="3" height="16.6"/>
<rect x="981" y="184.3" width="1" height="58.5"/>
<rect x="980" y="189.5" width="3" height="40.0"/>
<rect x="984" y="223.3" width="1" height="27.1"/>
<rect x="983" y="229.6" width="3" height="10.4"/>
<rect x="988" y="223.3" width="1" height="35.4"/>
<rect x="987" y="239.3" width="3" height="13.2"/>
<rect x="991" y="240.0" width="1" height="19.4"/>
<rect x="990.5" y="241.2" width="2" height="11.5" fill="#fff" stroke="#000" stroke-width="1"/>
<rect x="995" y="207.4" width="1" height="36.8"/>
<rect x="994.5" y="214.1" width="2" height="28.9" fill="#fff" stroke="#000" stroke-width="1"/>
<rect x="998" y="197.0" width="1" height="34.0"/>
<rect x="997" y="214.3" width="3" height="12.5"/>
<rect x="1001" y="218.5" width="1" height="13.2"/>
<rect x="1000" y="225.4" width="3" height="1.0"/>
<rect x="1005" y="224.0" width="1" height="23.6"/>
<rect x="1004" y="224.7" width="3" height="11.1"/>
<rect x="1008" y="228.2" width="1" height="47.2"/>
<rect x="1007" y="235.0" width="3" height="31.4"/>
<rect x="1012" y="264.3" width="1" height="30.7"/>
<rect x="1011" y="267.0" width="3" height="9.8"/>
<rect x="1015" y="240.0" width="1" height="40.3"/>
<rect x="1014.5" y="241.2" width="2" height="33.7" fill="#fff" stroke="#000" stroke-width="1"/>
<rect x="1018" y="239.3" width="1" height="46.5"/>
<rect x="1017" y="240.7" width="3" height="44.4"/>
<rect x="1022" y="281.7" width="1" height="30.5"/>
<rect x="1021" y="284.4" width="3" height="27.8"/>
<rect x="1025" y="290.7" width="1" height="21.5"/>
<rect x="1024.5" y="295.4" width="2" height="16.3" fill="#fff" stroke="#000" stroke-width="1"/>
<rect x="1028" y="276.8" width="1" height="29.9"/>
<rect x="1027.5" y="278.7" width="2" height="20.5" fill="#fff" stroke="#000" stroke-width="1"/>
<rect x="1032" y="274.0" width="1" height="26.4"/>
<rect x="1031.5" y="277.5" width="2" height="0.5" fill="#fff" stroke="#000" stroke-width="1"/>
<rect x="1035" y="250.4" width="1" height="29.9"/>
<rect x="1034.5" y="254.4" width="2" height="22.6" fill="#fff" stroke="#000" stroke-width="1"/>
<rect x="1039" y="247.0" width="1" height="30.5"/>
<rect x="1038" y="253.2" width="3" height="16.7"/>
<rect x="1042" y="251.8" width="1" height="36.8"/>
<rect x="1041.5" y="267.5" width="2" height="1.9" fill="#fff" stroke="#000" stroke-width="1"/>
<rect x="1045" y="263.6" width="1" height="27.8"/>
<rect x="1044" y="265.0" width="3" height="22.9"/>
<rect x="1049" y="265.7" width="1" height="24.3"/>
<rect x="1048.5" y="269.7" width="2" height="17.7" fill="#fff" stroke="#000" stroke-width="1"/>
<rect x="1052" y="262.2" width="1" height="33.4"/>
<rect x="1051" y="269.2" width="3" height="21.5"/>
<rect x="1056" y="288.6" width="1" height="44.4"/>
<rect x="1055" y="289.3" width="3" height="40.3"/>
<rect x="1059" y="304.3" width="1" height="34.7"/>
<rect x="1058.5" y="312.7" width="2" height="16.4" fill="#fff" stroke="#000" stroke-width="1"/>
<rect x="1062" y="314.7" width="1" height="39.9"/>
<rect x="1061.5" y="320.5" width="2" height="25.0" fill="#fff" stroke="#000" stroke-width="1"/>
<rect x="1066" y="293.5" width="1" height="32.5"/>
<rect x="1065.5" y="307.5" width="2" height="11.0" fill="#fff" stroke="#000" stroke-width="1"/>
<rect x="1069" y="302.6" width="1" height="45.9"/>
<rect x="1068" y="307.0" width="3" height="32.0"/>
<rect x="1073" y="333.8" width="1" height="55.5"/>
<rect x="1072" y="339.0" width="3" height="46.8"/>
<rect x="1076" y="372.0" width="1" height="49.3"/>
<rect x="1075" y="385.0" width="3" height="24.2"/>
<rect x="1079" y="380.6" width="1" height="37.3"/>
<rect x="1078.5" y="400.1" width="2" height="14.6" fill="#fff" stroke="#000" stroke-width="1"/>
<rect x="1083" y="393.6" width="1" height="14.7"/>
<rect x="1082.5" y="395.8" width="2" height="3.3" fill="#fff" stroke="#000" stroke-width="1"/>
<rect x="1086" y="333.0" width="1" height="62.3"/>
<rect x="1085.5" y="344.7" width="2" height="50.1" fill="#fff" stroke="#000" stroke-width="1"/>
<rect x="1089" y="326.0" width="1" height="24.3"/>
<rect x="1088.5" y="340.4" width="2" height="3.3" fill="#fff" stroke="#000" stroke-width="1"/>
<rect x="1093" y="327.7" width="1" height="21.7"/>
<rect x="1092.5" y="337.8" width="2" height="0.7" fill="#fff" stroke="#000" stroke-width="1"/>
<rect x="1096" y="328.6" width="1" height="41.6"/>
<rect x="1095" y="329.5" width="3" height="35.5"/>
<rect x="1100" y="348.0" width="1" height="23.2"/>
<rect x="1099.5" y="361.7" width="2" height="2.8" fill="#fff" stroke="#000" stroke-width="1"/>
<rect x="1103" y="356.8" width="1" height="26.2"/>
<rect x="1102" y="361.2" width="3" height="21.8"/>
<rect x="1106" y="382.4" width="1" height="36.8"/>
<rect x="1105" y="383.0" width="3" height="20.6"/>
<rect x="1110" y="376.2" width="1" height="43.0"/>
<rect x="1109" y="403.0" width="3" height="8.7"/>
<rect x="1113" y="391.1" width="1" height="28.1"/>
<rect x="1112.5" y="397.9" width="2" height="13.9" fill="#fff" stroke="#000" stroke-width="1"/>
<rect x="1117" y="380.0" width="1" height="29.2"/>
<rect x="1116.5" y="397.9" width="2" height="0.5" fill="#fff" stroke="#000" stroke-width="1"/>
<rect x="1120" y="384.3" width="1" height="21.8"/>
<rect x="1119" y="397.4" width="3" height="6.2"/>
<rect x="1123" y="391.7" width="1" height="21.9"/>
<rect x="1122" y="404.2" width="3" height="3.1"/>
<rect x="1127" y="386.8" width="1" height="35.5"/>
<rect x="1126.5" y="403.5" width="2" height="2.7" fill="#fff" stroke="#000" stroke-width="1"/>
  </g>
  <!-- TV logo -->
  <g fill="#000">
    <path d="M12.1 628.1H23.7V642.7H18.3V633.7H12.1Z"/>
    <circle cx="28.9" cy="630.9" r="2.7"/>
    <path d="M35.4 628.3H41.6L36 642.7H29.1Z"/>
  </g>
  <!-- red target -->
  <circle cx="1133.4" cy="643.7" r="9.9" fill="#fdf3f4" stroke="#c9646d" stroke-width="1.4"/>
  <circle cx="1133.4" cy="643.7" r="3.1" fill="#e04f5d"/>
  <!-- settings hexagon -->
  <path d="M1238.6 671.5L1242 665.6H1249L1252.4 671.5L1249 677.4H1242Z" fill="none" stroke="#131722" stroke-width="1.3"/>
  <circle cx="1245.5" cy="671.5" r="2.2" fill="none" stroke="#131722" stroke-width="1.2"/>
  <!-- flag icon -->
  <circle cx="21.6" cy="14.6" r="5.4" fill="#fbf4f5" stroke="#dcdde2" stroke-width="1"/>
  <circle cx="21.6" cy="15" r="2.5" fill="#d25a6c"/>
  <circle cx="15" cy="21.4" r="6.6" fill="#c95250" stroke="#fff" stroke-width="1.2"/>
  <path d="M15 17.6V25.2M11.2 21.4H18.8" stroke="#fff" stroke-width="2.1"/>
  <!-- eye crossed -->
  <g fill="none" stroke="#131722" stroke-width="1.2">
    <path d="M78.4 85C80.6 81 83 79.3 86 79.3C89 79.3 91.4 81 93.6 85C91.4 89 89 90.7 86 90.7C83 90.7 80.6 89 78.4 85Z"/>
    <circle cx="86" cy="85" r="2.7"/>
    <path d="M80.3 90.6L91.7 79.2" stroke="#fff" stroke-width="3.2"/>
    <path d="M80.3 90.6L91.7 79.2"/>
  </g>
</svg>

<!-- header -->
<div class="t" style="left:30.5px;top:12px;font-size:15px;color:#aeb1b8;letter-spacing:0.33px">Swiss Franc / Japanese Yen</div>
<div style="position:absolute;left:230.6px;top:19.2px;width:2.6px;height:2.6px;border-radius:50%;background:#131722"></div>
<div class="t" style="left:239px;top:12px;font-size:15px;color:#aeb1b8;transform:scaleX(0.9);transform-origin:0 0">1D</div>
<div style="position:absolute;left:260.6px;top:19.2px;width:2.6px;height:2.6px;border-radius:50%;background:#131722"></div>
<div class="t" style="left:269px;top:12px;font-size:15px;color:#aeb1b8;transform:scaleX(0.93);transform-origin:0 0">OANDA</div>
<div class="t" style="left:326px;top:13px;font-size:13px;color:#b2b5be">O</div>
<div class="t" style="left:336px;top:13px;font-size:13px;color:#131722">166.514</div>
<div class="t" style="left:387px;top:13px;font-size:13px;color:#b2b5be">H</div>
<div class="t" style="left:397px;top:13px;font-size:13px;color:#131722">167.314</div>
<div class="t" style="left:449px;top:13px;font-size:13px;color:#b2b5be">L</div>
<div class="t" style="left:456.5px;top:13px;font-size:13px;color:#131722">165.862</div>
<div class="t" style="left:508px;top:13px;font-size:13px;color:#b2b5be">C</div>
<div class="t" style="left:517px;top:13px;font-size:13px;color:#131722">166.660</div>
<div class="t" style="left:569px;top:13px;font-size:13px;color:#131722">+0.157</div>
<div class="t" style="left:612px;top:13px;font-size:13px;color:#131722">(+0.09%)</div>

<div style="position:absolute;left:8px;top:35px;width:67px;height:34px;border:1px solid #d98c90;border-radius:6px"></div>
<div class="t" id="sellp" style="left:20px;top:40px;font-size:13px;-webkit-text-stroke:0.45px #c8555c;color:#c8555c">166.64<span style="font-size:10px;vertical-align:2px">5</span></div>
<div class="t" id="selll" style="left:30px;top:55px;font-size:11px;color:#c8555c;transform:scaleX(0.88);transform-origin:0 0">SELL</div>
<div class="t" id="spread" style="left:84px;top:48px;font-size:11px;color:#131722">2.8</div>
<div style="position:absolute;left:106px;top:35px;width:67px;height:34px;border:1px solid #5b79a8;border-radius:6px"></div>
<div class="t" id="buyp" style="left:118px;top:40px;font-size:13px;-webkit-text-stroke:0.45px #4b6fae;color:#4b6fae">166.67<span style="font-size:10px;vertical-align:2px">3</span></div>
<div class="t" id="buyl" style="left:129.5px;top:55px;font-size:11px;color:#4b6fae;transform:scaleX(0.9);transform-origin:0 0">BUY</div>

<div class="t" id="vol" style="left:9px;top:79px;font-size:13px;color:#b2b5be">Vol · Ticks</div>
<div class="t" style="left:9px;top:103px;font-size:13px;color:#b2b5be;transform:scaleX(0.87);transform-origin:0 0">EMA</div><div class="t" style="left:41px;top:103px;font-size:13px;color:#c25562;transform:scaleX(0.97);transform-origin:0 0">169.748</div>
<div class="t" style="left:9px;top:127px;font-size:13px;color:#b2b5be;transform:scaleX(0.87);transform-origin:0 0">EMA</div><div class="t" style="left:41px;top:127px;font-size:13px;color:#6b6d74;transform:scaleX(0.97);transform-origin:0 0">171.093</div>
<div style="position:absolute;left:9px;top:147px;width:29px;height:21px;border:1px solid #d9dadd;border-radius:2px"></div>
<svg width="12" height="8" style="position:absolute;left:18px;top:153.8px"><path d="M1.3 5.5L5.5 1.7L9.3 5.3" fill="none" stroke="#131722" stroke-width="1.5"/></svg>

<!-- JPY -->
<div style="position:absolute;left:1216px;top:7px;width:57px;height:25px;border:1px solid #e6e7ea;border-radius:3px"></div>
<div class="t" id="jpy" style="left:1220px;top:14px;font-size:12.5px;color:#131722;transform:scaleX(0.87);transform-origin:0 0">JPY</div>
<svg width="8" height="6" style="position:absolute;left:1263px;top:18px"><path d="M1.2 1.5L3.8 4L6.4 1.5" fill="none" stroke="#131722" stroke-width="1.3"/></svg>

<!-- y labels -->
<div class="ylab" style="top:65px">180.000</div>
<div class="ylab" style="top:115px">178.000</div>
<div class="ylab" style="top:165px">176.000</div>
<div class="ylab" style="top:214px">174.000</div>
<div class="ylab" style="top:264px">172.000</div>
<div class="ylab" style="top:314px">170.000</div>
<div class="ylab" style="top:463px">164.000</div>
<div class="ylab" style="top:513px">162.000</div>
<div class="ylab" style="top:563px">160.000</div>
<div class="ylab" style="top:613px">158.000</div>
<div class="plab" style="top:235px">173.050</div>
<div class="plab" style="top:286px">171.000</div>
<div class="plab" style="top:361px">168.000</div>
<div class="plab" style="top:426px;height:17px">166.000</div>
<div style="position:absolute;left:1213px;top:395px;width:60px;height:31px;background:#3b3e47;border-radius:0 3px 3px 0"></div>
<div class="t" style="left:1222px;top:398px;font-size:11.5px;font-weight:bold;color:#f2f2f2;letter-spacing:0px">166.660</div>
<div class="t" style="left:1221px;top:412px;font-size:11.5px;font-weight:bold;color:#dcdcdc;letter-spacing:0px">03:06:23</div>

<!-- x labels -->
<div class="xlab" style="left:38.5px">Dec</div>
<div class="xlab" style="left:106.5px;color:#9c9fa6;-webkit-text-stroke:0.5px #9c9fa6;letter-spacing:0.3px">2024</div>
<div class="xlab" style="left:180.5px">Feb</div>
<div class="xlab" style="left:251.5px">Mar</div>
<div class="xlab" style="left:322.5px">Apr</div>
<div class="xlab" style="left:396.5px">May</div>
<div class="xlab" style="left:475px">Jun</div>
<div class="xlab" style="left:542.5px">Jul</div>
<div class="xlab" style="left:620px">Aug</div>
<div class="xlab" style="left:695.5px">Sep</div>
<div class="xlab" style="left:767px">Oct</div>
<div class="xlab" style="left:844.5px">Nov</div>
<div class="xlab" style="left:915.5px">Dec</div>
<div class="xlab" style="left:987px;color:#9c9fa6;-webkit-text-stroke:0.5px #9c9fa6;letter-spacing:0.3px">2025</div>
<div class="xlab" style="left:1061.5px">Feb</div>
<div class="xlab" style="left:1130.3px">Mar</div>
<div class="xlab" style="left:1201px">Apr</div>

<!-- bottom toolbar -->
<div id="bar"></div>
<div class="bt" style="left:15px">1D</div>
<div class="bt" style="left:42px">5D</div>
<div class="bt" style="left:70px">1M</div>
<div class="bt" style="left:99px">3M</div>
<div class="bt" style="left:128px">6M</div>
<div class="bt" style="left:157px">YTD</div>
<div class="bt" style="left:194px">1Y</div>
<div class="bt" style="left:221px">5Y</div>
<div class="bt" style="left:249px">All</div>
<div class="bt" style="left:1184px;top:698px;font-size:14px;transform:scaleX(0.94);transform-origin:0 0">18:53:36 UTC</div>
<svg width="1278" height="721" style="position:absolute;left:0;top:0">
  <!-- calendar icon -->
  <rect x="276" y="694" width="1" height="22" fill="#4a4a4a"/>
  <g fill="none" stroke="#e0e0e0" stroke-width="1.3">
    <path d="M291.7 704V699.2Q291.7 697.6 293.3 697.6H306.6Q308.2 697.6 308.2 699.2V711Q308.2 712.6 306.6 712.6H300"/>
    <path d="M291.7 701.6H308.2"/>
    <path d="M296.5 695V699.3M303.5 695V699.3"/>
    <path d="M290 709.5H297.3M294.3 706.3L297.5 709.5L294.3 712.7"/>
  </g>
</svg>
</body></html>
